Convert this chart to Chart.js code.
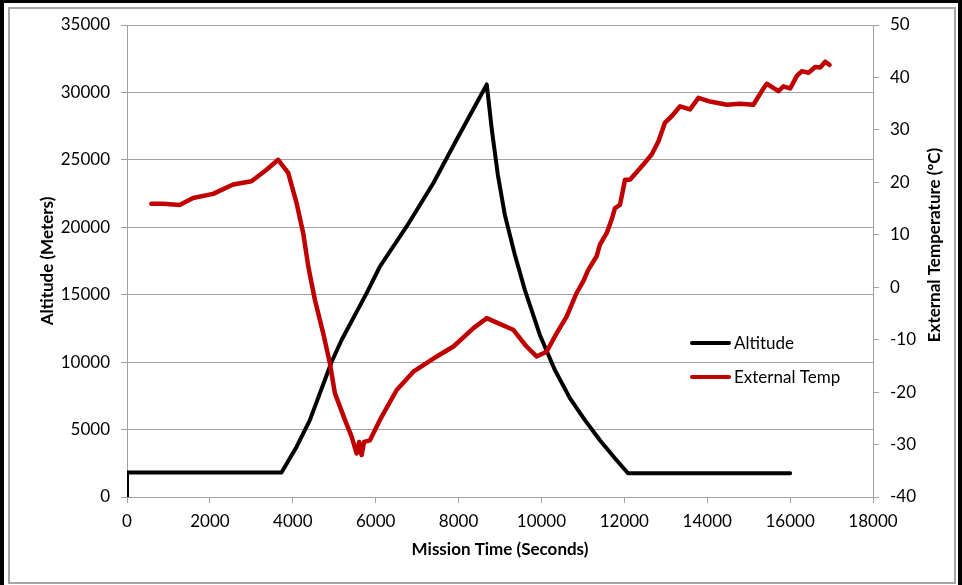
<!DOCTYPE html>
<html>
<head>
<meta charset="utf-8">
<script src="https://cdn.jsdelivr.net/npm/chart.js@4.4.1/dist/chart.umd.min.js"></script>
<style>
  html, body { margin: 0; padding: 0; background: #fff; }
  #wrap { position: relative; width: 962px; height: 585px; overflow: hidden; background: #fff; }
  #outer { position: absolute; left: 0; top: 0; width: 962px; height: 590px; border-left: 4px solid #000; border-top: 3px solid #000; border-right: 4px solid #000; box-sizing: border-box; }
  #inner { position: absolute; left: 8px; top: 7px; width: 948px; height: 577px; border: 2px solid #a6a6a6; box-sizing: border-box; }
  canvas { position: absolute; left: 0; top: 0; }
</style>
</head>
<body>
<div id="wrap">
  <div id="outer"></div>
  <div id="inner"></div>
  <canvas id="c" width="962" height="585"></canvas>
</div>
<script>
// ---- Data ----
const altTime   = [0, 0, 3728, 4090, 4412, 4936, 5178, 5782, 6103, 6748, 7393, 7956, 8681, 8802, 8947, 9116, 9358, 9599, 9962, 10324, 10686, 11049, 11411, 11773, 12087, 16001];
const altMeters = [0, 1813, 1813, 3716, 5700, 10010, 11645, 15115, 17092, 20064, 23289, 26507, 30594, 27250, 23906, 20933, 17961, 15360, 12016, 9415, 7334, 5700, 4213, 2876, 1761, 1761];

const tempTime = [587, 870, 1271, 1595, 2078, 2561, 3003, 3366, 3648, 3890, 4090, 4252, 4373, 4533, 4735, 4896, 5016, 5258, 5420, 5540, 5600, 5661, 5720, 5862, 6103, 6507, 6910, 7393, 7877, 8360, 8681, 8964, 9317, 9640, 9882, 10124, 10365, 10607, 10849, 11008, 11129, 11331, 11411, 11573, 11694, 11774, 11895, 12016, 12136, 12458, 12660, 12821, 12982, 13143, 13345, 13586, 13788, 14069, 14472, 14793, 15115, 15316, 15437, 15719, 15840, 16001, 16163, 16284, 16444, 16605, 16726, 16847, 16951];
const tempC    = [15.9, 15.9, 15.7, 17.0, 17.8, 19.6, 20.2, 22.4, 24.3, 21.8, 16.1, 10.3, 4.0, -2.4, -8.8, -14.5, -20.2, -25.3, -28.5, -31.7, -29.5, -32.0, -29.5, -29.2, -25.3, -19.6, -16.1, -13.6, -11.3, -7.8, -5.9, -6.9, -8.1, -11.3, -13.2, -12.3, -8.8, -5.6, -1.1, 1.1, 3.3, 5.9, 8.1, 10.3, 12.9, 15.1, 15.7, 20.5, 20.5, 23.4, 25.3, 27.8, 31.4, 32.6, 34.5, 33.9, 36.1, 35.4, 34.8, 35.0, 34.8, 37.4, 38.8, 37.4, 38.3, 37.9, 40.3, 41.2, 40.9, 42.0, 41.9, 43.0, 42.4];

const seriesNames = ['Altitude', 'External Temp'];
const xTitle = 'Mission Time (Seconds)';
const yTitle = 'Altitude (Meters)';
const y1Title = 'External Temperature (ºC)';

const FONT = 'Lato, "Open Sans", sans-serif';
const GRID = '#a0a0a0';

const altData = altTime.map((t, i) => ({ x: t, y: altMeters[i] }));
const tempData = tempTime.map((t, i) => ({ x: t, y: tempC[i] }));
const plain = v => String(v);

const overlay = {
  id: 'overlay',
  afterDraw(chart) {
    const ctx = chart.ctx;
    ctx.save();
    const ds = chart.data.datasets;
    const rows = [343, 377];
    ds.forEach((d, i) => {
      ctx.strokeStyle = d.borderColor;
      ctx.lineWidth = 4;
      ctx.lineCap = 'round';
      ctx.beginPath();
      ctx.moveTo(692, rows[i]);
      ctx.lineTo(729, rows[i]);
      ctx.stroke();
      ctx.fillStyle = '#000';
      ctx.font = '17px ' + FONT;
      ctx.textBaseline = 'middle';
      ctx.textAlign = 'left';
      ctx.fillText(d.label, 734, rows[i] + 1);
    });
    ctx.translate(935, 245);
    ctx.rotate(-Math.PI / 2);
    ctx.font = 'bold 17px ' + FONT;
    ctx.textAlign = 'center';
    ctx.textBaseline = 'middle';
    ctx.fillStyle = '#000';
    ctx.fillText(y1Title, 0, 0);
    ctx.restore();
  }
};

new Chart(document.getElementById('c'), {
  type: 'line',
  data: {
    datasets: [
      { label: seriesNames[0], data: altData, yAxisID: 'y', borderColor: '#000000', backgroundColor: '#000000', borderWidth: 4, pointRadius: 0, tension: 0, order: 1, borderJoinStyle: 'round', borderCapStyle: 'round' },
      { label: seriesNames[1], data: tempData, yAxisID: 'y1', borderColor: '#c00000', backgroundColor: '#c00000', borderWidth: 4.5, pointRadius: 0, tension: 0, order: 0, borderJoinStyle: 'round', borderCapStyle: 'round' }
    ]
  },
  options: {
    responsive: false,
    animation: false,
    events: [],
    layout: { padding: { top: 25, left: 0, right: 0, bottom: 0 } },
    plugins: { legend: { display: false }, tooltip: { enabled: false } },
    scales: {
      x: {
        type: 'linear', min: 0, max: 18000,
        ticks: { stepSize: 2000, color: '#000', font: { family: FONT, size: 17 }, padding: 8, maxRotation: 0, callback: plain },
        grid: { drawOnChartArea: false, color: GRID, tickLength: 6 },
        border: { color: GRID, width: 1 },
        title: { display: true, text: xTitle, color: '#000', font: { family: FONT, size: 17, weight: 'bold' }, padding: { top: 0, bottom: 25 } },
        afterFit(s) { s.height = 88; }
      },
      y: {
        position: 'left', min: 0, max: 35000,
        ticks: { stepSize: 5000, color: '#000', font: { family: FONT, size: 17 }, padding: 11, callback: plain },
        grid: { color: GRID, tickLength: 6 },
        border: { color: GRID, width: 1 },
        title: { display: true, text: yTitle, color: '#000', font: { family: FONT, size: 17, weight: 'bold' }, padding: { top: 37, bottom: 0 } },
        afterFit(s) { s.width = 127; }
      },
      y1: {
        position: 'right', min: -40, max: 50,
        ticks: { stepSize: 10, color: '#000', font: { family: FONT, size: 17 }, padding: 11, callback: plain },
        grid: { drawOnChartArea: false, color: GRID, tickLength: 6 },
        border: { color: GRID, width: 1 },
        afterFit(s) { s.width = 89; }
      }
    }
  },
  plugins: [overlay]
});
</script>
</body>
</html>
